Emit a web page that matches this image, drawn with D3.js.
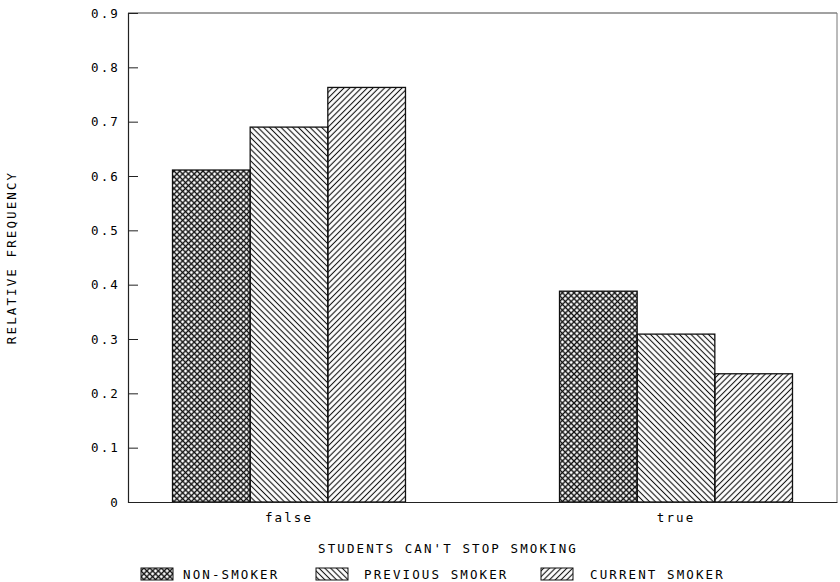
<!DOCTYPE html>
<html>
<head>
<meta charset="utf-8">
<script src="https://cdn.jsdelivr.net/npm/d3@7"></script>
<style>
  body { margin: 0; background: #fff; }
  text { font-family: "DejaVu Sans Mono", monospace; font-size: 12.5px; fill: #000; letter-spacing: 2.1px; }
</style>
</head>
<body>
<script>
// categories on the x axis
var categories = ["false", "true"];
// the three smoker groups
var seriesNames = ["NON-SMOKER", "PREVIOUS SMOKER", "CURRENT SMOKER"];
// relative frequencies, one per category
var nonSmoker = [0.611, 0.388];
var previousSmoker = [0.690, 0.309];
var currentSmoker = [0.763, 0.236];
// y tick values and labels
var yTicks = [0, 0.1, 0.2, 0.3, 0.4, 0.5, 0.6, 0.7, 0.8, 0.9];
var yTickLabels = ["0", "0.1", "0.2", "0.3", "0.4", "0.5", "0.6", "0.7", "0.8", "0.9"];

var seriesValues = [nonSmoker, previousSmoker, currentSmoker];
var patternIds = ["cross", "back", "fwd"];

var w = 840, h = 582;
//size of graph (window.top is taken, so use other names)
var graphLeft = 128, graphRight = 837, graphTop = 13, graphBottom = 502;

var svg = d3.select("body").append("svg")
    .attr("width", w)
    .attr("height", h);

//hatch patterns
var defs = svg.append("defs");
function hatch(id, angles, sw) {
    var p = defs.append("pattern")
        .attr("id", id)
        .attr("patternUnits", "userSpaceOnUse")
        .attr("width", 4.1)
        .attr("height", 4.1)
        .attr("patternTransform", "rotate(" + angles[0] + ")");
    p.append("line")
        .attr("x1", 2.05).attr("y1", 0).attr("x2", 2.05).attr("y2", 4.1)
        .attr("stroke", "#111").attr("stroke-width", sw);
    if (angles.length > 1) {
        p.append("line")
            .attr("x1", 0).attr("y1", 2.05).attr("x2", 4.1).attr("y2", 2.05)
            .attr("stroke", "#111").attr("stroke-width", sw);
    }
}
hatch("cross", [45, 0], 1.4);
hatch("back", [-45], 1.1);
hatch("fwd", [45], 1.1);

//scales
var x = d3.scaleBand()
    .domain(categories)
    .range([graphLeft, graphRight])
    .paddingInner(0.398)
    .paddingOuter(0.115);

var xs = d3.scaleBand()
    .domain(seriesNames)
    .range([0, x.bandwidth()]);

var y = d3.scaleLinear()
    .domain([0, 0.9])
    .range([graphBottom, graphTop]);

//frame
svg.append("line")
    .attr("x1", graphLeft).attr("x2", graphRight).attr("y1", graphTop).attr("y2", graphTop)
    .attr("stroke", "#444").attr("stroke-width", 1);
svg.append("line")
    .attr("x1", graphRight).attr("x2", graphRight).attr("y1", graphTop).attr("y2", graphBottom)
    .attr("stroke", "#777").attr("stroke-width", 1);

//bars
seriesNames.forEach(function(s, si) {
    svg.selectAll("rect.s" + si)
        .data(categories)
        .enter()
        .append("rect")
        .attr("class", "s" + si)
        .attr("x", function(d) { return x(d) + xs(s); })
        .attr("y", function(d, i) { return y(seriesValues[si][i]); })
        .attr("width", xs.bandwidth())
        .attr("height", function(d, i) { return y(0) - y(seriesValues[si][i]); })
        .attr("fill", "url(#" + patternIds[si] + ")")
        .attr("stroke", "#111")
        .attr("stroke-width", 1.3);
});

//y axis with inward ticks
var yAxis = d3.axisLeft(y)
    .tickValues(yTicks)
    .tickSize(-10)
    .tickPadding(20)
    .tickFormat(function(d, i) { return yTickLabels[i]; });
var gy = svg.append("g")
    .attr("transform", "translate(" + graphLeft + ",0)")
    .call(yAxis);
gy.select(".domain").attr("stroke", "#222").attr("stroke-width", 1.2);
gy.selectAll(".tick line").attr("stroke", "#222");
gy.selectAll(".tick").filter(function(d) { return d === 0.9 || d === 0; }).select("line").remove();
gy.selectAll(".tick text")
    .attr("x", -8)
    .style("font-family", "DejaVu Sans Mono, monospace")
    .style("font-size", "12.5px");

//x axis
var xAxis = d3.axisBottom(x).tickSize(0).tickPadding(11);
var gx = svg.append("g")
    .attr("transform", "translate(0," + graphBottom + ")")
    .call(xAxis);
gx.select(".domain").attr("stroke", "#222").attr("stroke-width", 1.2);
gx.selectAll(".tick text")
    .style("font-family", "DejaVu Sans Mono, monospace")
    .style("font-size", "12.5px");

//axis titles
svg.append("text")
    .attr("x", 448).attr("y", 553)
    .attr("text-anchor", "middle")
    .text("STUDENTS CAN'T STOP SMOKING");

svg.append("text")
    .attr("transform", "translate(16," + ((graphTop + graphBottom) / 2) + ") rotate(-90)")
    .attr("text-anchor", "middle")
    .text("RELATIVE FREQUENCY");

//legend
var legendX = [141, 316, 541];
var legend = svg.selectAll("g.legend")
    .data(seriesNames)
    .enter()
    .append("g")
    .attr("class", "legend")
    .attr("transform", function(d, i) { return "translate(" + legendX[i] + ",568)"; });
legend.append("rect")
    .attr("width", 32).attr("height", 12)
    .attr("fill", function(d, i) { return "url(#" + patternIds[i] + ")"; })
    .attr("stroke", "#111").attr("stroke-width", 1);
legend.append("text")
    .attr("x", function(d, i) { return i === 2 ? 49 : (i === 1 ? 48 : 42); })
    .attr("y", 11)
    .text(function(d) { return d; });
</script>
</body>
</html>
